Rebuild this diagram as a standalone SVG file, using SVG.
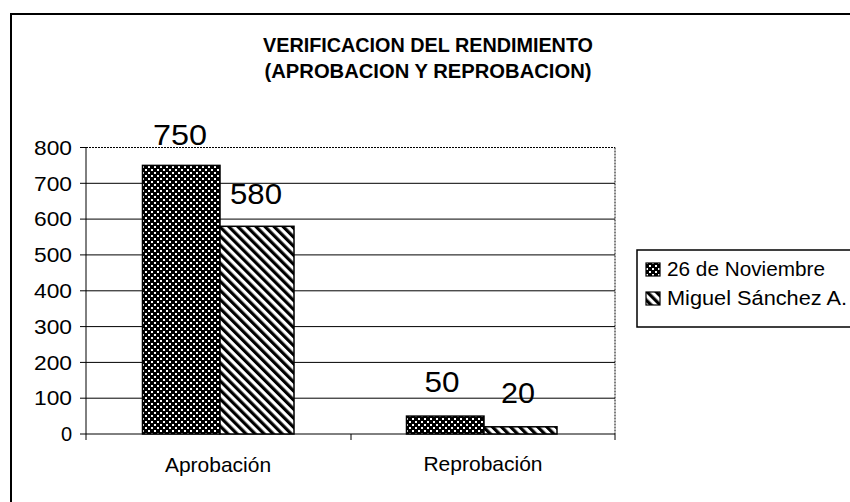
<svg xmlns="http://www.w3.org/2000/svg" width="850" height="502" viewBox="0 0 850 502">
<defs>
<pattern id="dots" patternUnits="userSpaceOnUse" width="6" height="6">
<rect width="6" height="6" fill="#000"/>
<rect x="1" y="1" width="2" height="2" fill="#fff"/>
<rect x="4" y="4" width="2" height="2" fill="#fff"/>
</pattern>
<pattern id="stripes" patternUnits="userSpaceOnUse" width="6.4" height="20" patternTransform="rotate(-45)">
<rect width="6.4" height="20" fill="#fff"/>
<rect width="3.2" height="20" fill="#000"/>
</pattern>
<style>
text{font-family:"Liberation Sans",Arial,sans-serif;fill:#000}
.title{font-size:20px;font-weight:bold}
.ax{font-size:20px;text-anchor:end}
.cat{font-size:21px;text-anchor:middle}
.val{font-size:30px;text-anchor:middle}
.leg{font-size:20px}
.grid{stroke:#000;stroke-width:1}
.dot{stroke:#000;stroke-width:1;stroke-dasharray:2 1}
.bar{stroke:#000;stroke-width:1.5}
</style>
</defs>
<rect width="850" height="502" fill="#fff"/>
<!-- outer frame -->
<path d="M11,502 V14 H850" fill="none" stroke="#000" stroke-width="2"/>
<!-- title -->
<g id="title">
<text class="title" x="428" y="52" text-anchor="middle" textLength="330" lengthAdjust="spacingAndGlyphs">VERIFICACION DEL RENDIMIENTO</text>
<text class="title" x="428" y="78" text-anchor="middle" textLength="327" lengthAdjust="spacingAndGlyphs">(APROBACION Y REPROBACION)</text>
</g>
<!-- axes and grid -->
<g id="axes">
<line class="dot" x1="86" y1="147.5" x2="615" y2="147.5"/>
<line class="dot" x1="615" y1="147.5" x2="615" y2="434"/>
<line class="grid" x1="86" y1="183.3" x2="615" y2="183.3"/>
<line class="grid" x1="86" y1="219.1" x2="615" y2="219.1"/>
<line class="grid" x1="86" y1="254.9" x2="615" y2="254.9"/>
<line class="grid" x1="86" y1="290.8" x2="615" y2="290.8"/>
<line class="grid" x1="86" y1="326.6" x2="615" y2="326.6"/>
<line class="grid" x1="86" y1="362.4" x2="615" y2="362.4"/>
<line class="grid" x1="86" y1="398.2" x2="615" y2="398.2"/>
<line class="grid" x1="86" y1="147.5" x2="86" y2="440"/>
<line class="grid" x1="80" y1="434" x2="615" y2="434"/>
<path class="grid" d="M80,147.5H86M80,183.3H86M80,219.1H86M80,254.9H86M80,290.8H86M80,326.6H86M80,362.4H86M80,398.2H86M351,434V440M615,434V440"/>
<text class="ax" x="72" y="155" textLength="38" lengthAdjust="spacingAndGlyphs">800</text>
<text class="ax" x="72" y="190.5" textLength="38" lengthAdjust="spacingAndGlyphs">700</text>
<text class="ax" x="72" y="226.3" textLength="38" lengthAdjust="spacingAndGlyphs">600</text>
<text class="ax" x="72" y="262.1" textLength="38" lengthAdjust="spacingAndGlyphs">500</text>
<text class="ax" x="72" y="298" textLength="38" lengthAdjust="spacingAndGlyphs">400</text>
<text class="ax" x="72" y="333.8" textLength="38" lengthAdjust="spacingAndGlyphs">300</text>
<text class="ax" x="72" y="369.6" textLength="38" lengthAdjust="spacingAndGlyphs">200</text>
<text class="ax" x="72" y="405.4" textLength="38" lengthAdjust="spacingAndGlyphs">100</text>
<text class="ax" x="72" y="441.2">0</text>
<text class="cat" x="218" y="472">Aprobación</text>
<text class="cat" x="483" y="471">Reprobación</text>
</g>
<!-- bars -->
<g id="bars">
<rect class="bar" x="142.5" y="165.4" width="77.5" height="268.6" fill="url(#dots)"/>
<rect class="bar" x="220" y="226.3" width="74" height="207.7" fill="url(#stripes)"/>
<rect class="bar" x="406.5" y="416.1" width="77.5" height="17.9" fill="url(#dots)"/>
<rect class="bar" x="484" y="426.8" width="73" height="7.2" fill="url(#stripes)"/>
</g>
<g id="labels">
<text class="val" x="180" y="145" textLength="54" lengthAdjust="spacingAndGlyphs">750</text>
<text class="val" x="256" y="204" textLength="52" lengthAdjust="spacingAndGlyphs">580</text>
<text class="val" x="442" y="392" textLength="35" lengthAdjust="spacingAndGlyphs">50</text>
<text class="val" x="518" y="403" textLength="34" lengthAdjust="spacingAndGlyphs">20</text>
</g>
<!-- legend -->
<g id="legend">
<path d="M850,250H637V327H850" fill="#fff" stroke="#000" stroke-width="1.5"/>
<rect x="646" y="263" width="14" height="13" fill="url(#dots)" stroke="#000" stroke-width="1.2"/>
<rect x="646" y="292" width="14" height="13" fill="url(#stripes)" stroke="#000" stroke-width="1.2"/>
<text class="leg" x="667" y="276" textLength="158" lengthAdjust="spacingAndGlyphs">26 de Noviembre</text>
<text class="leg" x="667" y="305" textLength="180" lengthAdjust="spacingAndGlyphs">Miguel Sánchez A.</text>
</g>
</svg>
